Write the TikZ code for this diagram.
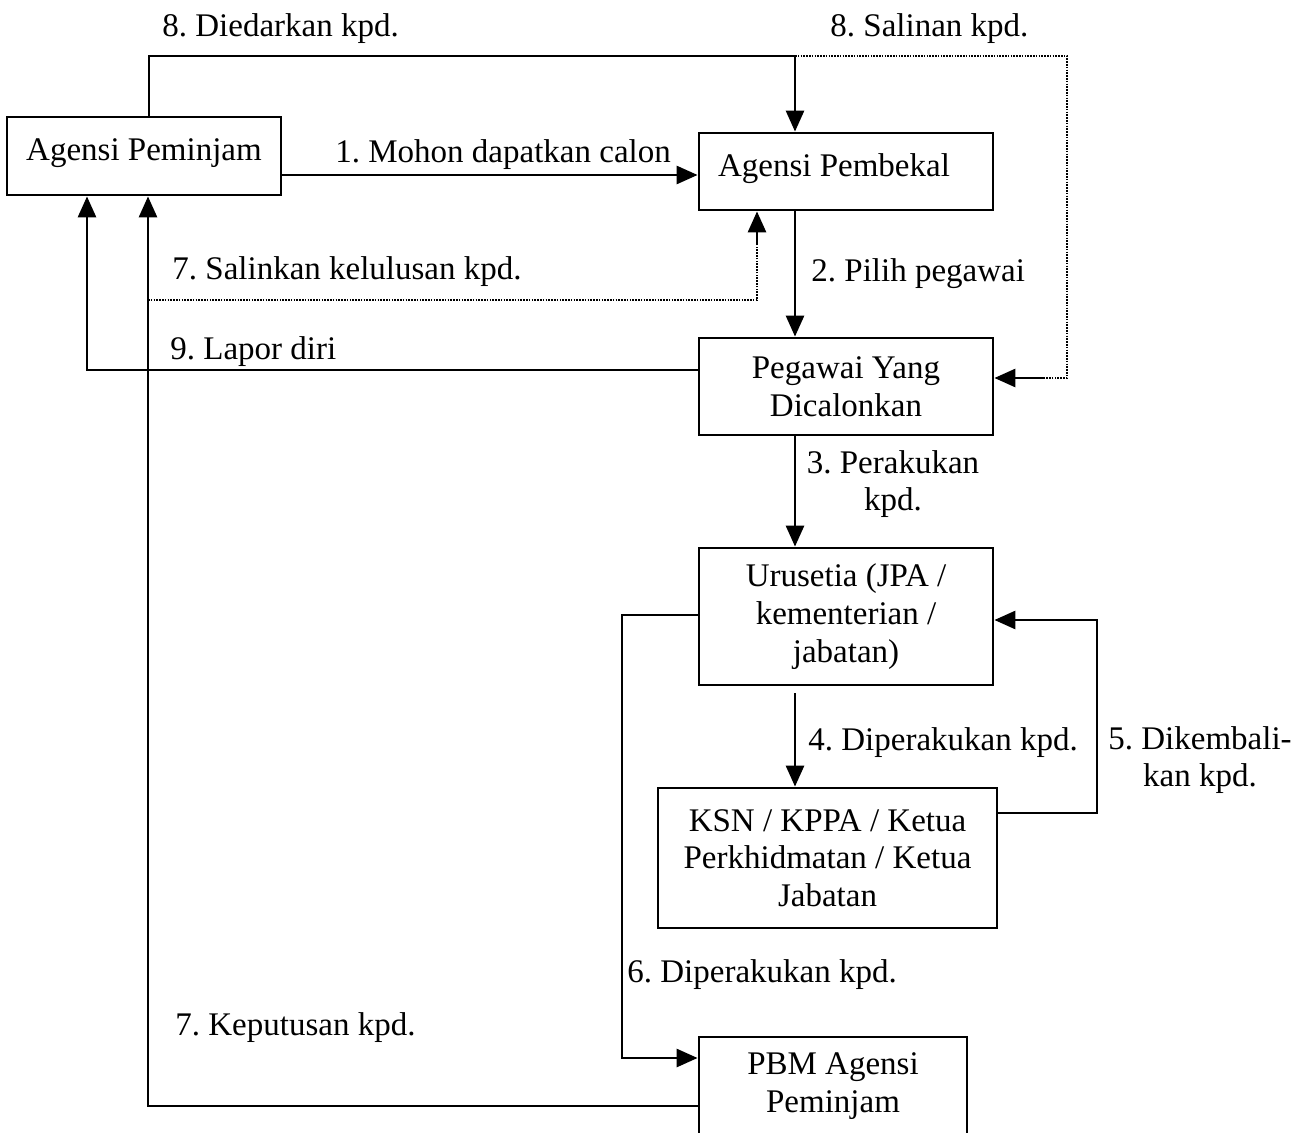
\documentclass[tikz,border=0pt]{standalone}
\usepackage{fontspec}
\setmainfont{Liberation Serif}
\usetikzlibrary{arrows.meta}
\begin{document}
\frenchspacing
\begin{tikzpicture}[x=0.5pt,y=-0.5pt,
  font=\fontsize{16.5}{18.8}\selectfont,
  box/.style={draw, line width=1.4pt, align=center, inner sep=0pt},
  lbl/.style={inner sep=0pt, anchor=base west},
  conn/.style={line width=1.4pt, -{Triangle[length=10.5pt,width=9pt]}},
  plain/.style={line width=1.4pt},
  dots/.style={line width=1.2pt, dash pattern=on 0.8pt off 0.6pt}]
\useasboundingbox (0,0) rectangle (1305,1133);

% boxes
\node[box, minimum width=137pt, minimum height=39pt] (pinjam) at (144,156) {Agensi Peminjam\\[-12.8pt]\mbox{}};
\node[box, minimum width=147pt, minimum height=38.5pt] (bekal) at (846,171.5) {Agensi Pembekal\hspace*{12pt}\\[-12.8pt]\mbox{}};
\node[box, minimum width=147pt, minimum height=48.5pt] (pegawai) at (846,386.5) {Pegawai Yang\\Dicalonkan};
\node[box, minimum width=147pt, minimum height=68.5pt] (uru) at (846,616.5) {Urusetia (JPA /\\kementerian /\\jabatan)};
\node[box, minimum width=169.5pt, minimum height=70pt] (ksn) at (827.5,858) {KSN / KPPA / Ketua\\Perkhidmatan / Ketua\\Jabatan};
\node[box, minimum width=134pt, minimum height=49pt] (pbm) at (833,1086) {PBM Agensi\\Peminjam};

% helper coordinates
\coordinate (t8a) at (149,56);
\coordinate (t8b) at (795,56);
\coordinate (t8c) at (1067,56);
\coordinate (t8d) at (1067,378);
\coordinate (s7a) at (148,300);
\coordinate (s7b) at (757,300);
\coordinate (l9) at (87,370);
\coordinate (k7) at (148,1106);
\coordinate (r5a) at (1097,813);
\coordinate (r5b) at (1097,620);
\coordinate (l6a) at (622,615);
\coordinate (l6b) at (622,1058);

% 8. Diedarkan / Salinan
\draw[plain] (149,0 |- pinjam.north) -- (t8a) -- (t8b);
\draw[conn] (t8b) -- (795,0 |- bekal.north);
\draw[dots] (t8b) -- (t8c) -- (t8d) -- (1040,378);
\draw[conn] (1045,378) -- (pegawai.east |- 0,378);

% 1
\draw[conn] (pinjam.east |- 0,175) -- (bekal.west |- 0,175);

% 7 Salinkan (dotted)
\draw[dots] (s7a) -- (s7b) -- (757,240);
\draw[conn] (757,245) -- (757,0 |- bekal.south);

% 9 Lapor diri
\draw[conn] (pegawai.west |- 0,370) -- (l9) -- (87,0 |- pinjam.south);

% 7 Keputusan
\draw[conn] (pbm.west |- 0,1106) -- (k7) -- (148,0 |- pinjam.south);

% 2, 3, 4
\draw[conn] (795,0 |- bekal.south) -- (795,0 |- pegawai.north);
\draw[conn] (795,0 |- pegawai.south) -- (795,0 |- uru.north);
\draw[conn, shorten <=3.5pt] (795,0 |- uru.south) -- (795,0 |- ksn.north);

% 5
\draw[conn] (ksn.east |- 0,813) -- (r5a) -- (r5b) -- (uru.east |- 0,620);

% 6
\draw[conn] (uru.west |- 0,615) -- (l6a) -- (l6b) -- (pbm.west |- 0,1058);

% labels
\node[lbl] (L8a) at (162,37) {8. Diedarkan kpd.};
\node[lbl] (L8b) at (830,37) {8. Salinan kpd.};
\node[lbl] (L1) at (335,163) {1. Mohon dapatkan calon};
\node[lbl] (L7a) at (172,280) {7. Salinkan kelulusan kpd.};
\node[lbl] (L2) at (811,282) {2. Pilih pegawai};
\node[lbl] (L9) at (170,360) {9. Lapor diri};
\node[inner sep=0pt, align=center, anchor=north] (L3) at (893,450) {3. Perakukan\\kpd.};
\node[lbl] (L4) at (808,750) {4. Diperakukan kpd.};
\node[inner sep=0pt, align=center, anchor=north] (L5) at (1200,726) {5. Dikembali-\\kan kpd.};
\node[lbl] (L6) at (627,982) {6. Diperakukan kpd.};
\node[lbl] (L7b) at (175,1035) {7. Keputusan kpd.};
\end{tikzpicture}
\end{document}
